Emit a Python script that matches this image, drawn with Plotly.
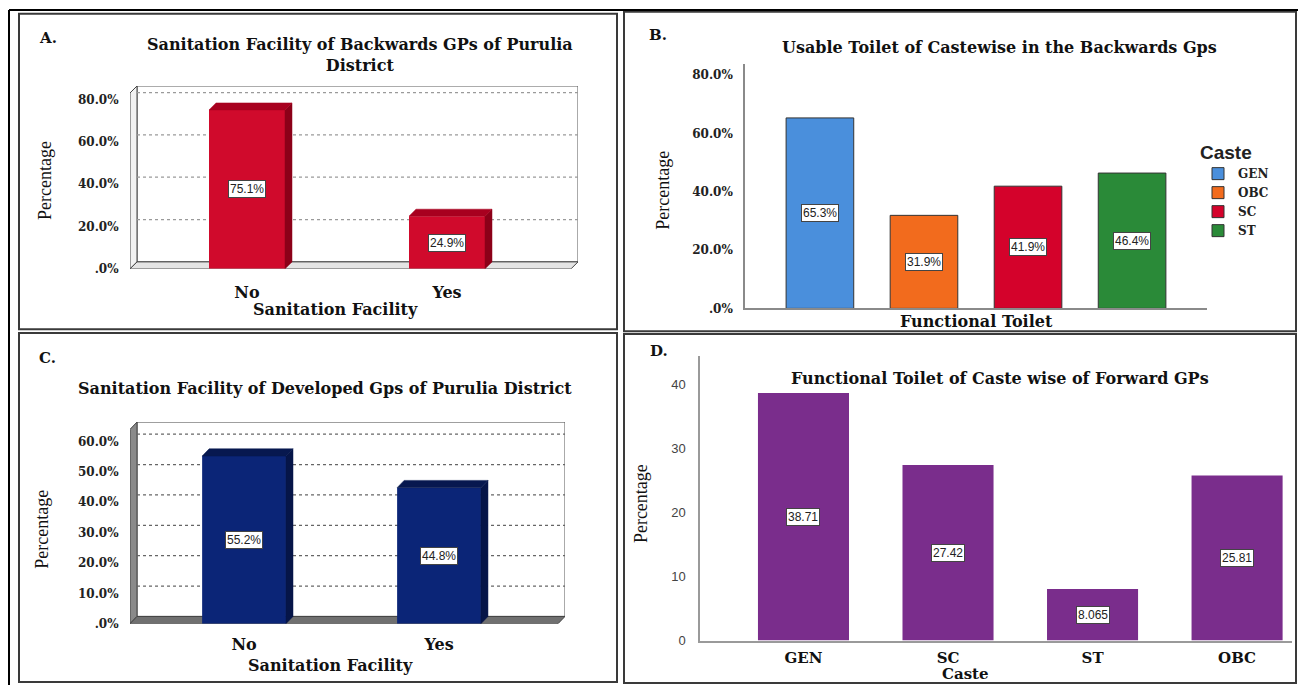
import plotly.graph_objects as go

W, H = 1298, 693
SERIF = "DejaVu Serif"
TIMES = "Liberation Serif"
SANS = "Liberation Sans"

# ---------------- data ----------------
# Panel A
a_categories = ["No", "Yes"]
a_values = [75.1, 24.9]
a_labels = ["75.1%", "24.9%"]
a_ticks = [0, 20, 40, 60, 80]
a_ticktext = [".0%", "20.0%", "40.0%", "60.0%", "80.0%"]

# Panel B
b_castes = ["GEN", "OBC", "SC", "ST"]
b_values = [65.3, 31.9, 41.9, 46.4]
b_labels = ["65.3%", "31.9%", "41.9%", "46.4%"]
b_colors = ["#4a8fdc", "#f26b1d", "#d4022b", "#2a8a38"]
b_ticks = [0, 20, 40, 60, 80]
b_ticktext = [".0%", "20.0%", "40.0%", "60.0%", "80.0%"]

# Panel C
c_categories = ["No", "Yes"]
c_values = [55.2, 44.8]
c_labels = ["55.2%", "44.8%"]
c_ticks = [0, 10, 20, 30, 40, 50, 60]
c_ticktext = [".0%", "10.0%", "20.0%", "30.0%", "40.0%", "50.0%", "60.0%"]

# Panel D
d_castes = ["GEN", "SC", "ST", "OBC"]
d_values = [38.71, 27.42, 8.065, 25.81]
d_labels = ["38.71", "27.42", "8.065", "25.81"]
d_ticks = [0, 10, 20, 30, 40]


def fx(x):
    return x / W


def fy(y):
    return 1 - y / H


fig = go.Figure()
shapes = []
annotations = []


def ann(text, x, y, size, family=SERIF, bold=True, color="#111", angle=0,
        xanchor="center"):
    annotations.append(dict(
        text=("<b>%s</b>" % text) if bold else text,
        x=fx(x), y=fy(y), xref="paper", yref="paper", showarrow=False,
        font=dict(family=family, size=size, color=color),
        textangle=angle, xanchor=xanchor, yanchor="middle"))


def value_labels(xref, yref, xs, vals, texts, size=12):
    for xv, v, t in zip(xs, vals, texts):
        annotations.append(dict(
            text=t, x=xv, y=v / 2, xref=xref, yref=yref, showarrow=False,
            font=dict(family=SANS, size=size, color="#222"),
            bgcolor="white", bordercolor="#444", borderwidth=1, borderpad=1))


def box3d(axn, xlo, xhi, ytop, dx, dy, ticks, floor_fill, wall_fill, grid_col):
    xr, yr = "x" + axn, "y" + axn
    # back wall
    shapes.append(dict(type="rect", xref=xr, yref=yr, x0=xlo + dx, x1=xhi,
                       y0=dy, y1=ytop, line=dict(color="#555", width=1),
                       fillcolor="white", layer="below"))
    # left wall
    shapes.append(dict(type="path", xref=xr, yref=yr, layer="below",
                       path="M %f,%f L %f,%f L %f,%f L %f,%f Z" % (
                           xlo, 0, xlo + dx, dy, xlo + dx, ytop, xlo, ytop - dy),
                       fillcolor=wall_fill, line=dict(color="#444", width=1)))
    # floor
    shapes.append(dict(type="path", xref=xr, yref=yr, layer="below",
                       path="M %f,%f L %f,%f L %f,%f L %f,%f Z" % (
                           xlo, 0, xhi - dx, 0, xhi, dy, xlo + dx, dy),
                       fillcolor=floor_fill, line=dict(color="#444", width=1)))
    for t in ticks[1:]:
        shapes.append(dict(type="line", xref=xr, yref=yr, layer="below",
                           x0=xlo + dx, x1=xhi, y0=t + dy, y1=t + dy,
                           line=dict(color=grid_col, width=1.2, dash="dot")))


def bars3d(axn, vals, half, dx, dy, front, side, top):
    xr, yr = "x" + axn, "y" + axn
    pos = list(range(len(vals)))
    fig.add_trace(go.Bar(x=pos, y=vals, width=2 * half, marker=dict(color=front, line=dict(width=0)),
                         xaxis=xr, yaxis=yr, showlegend=False, hoverinfo="skip"))
    for c, v in zip(pos, vals):
        fig.add_trace(go.Scatter(
            x=[c + half, c + half + dx, c + half + dx, c + half, c + half],
            y=[0, dy, v + dy, v, 0], fill="toself", fillcolor=side, mode="lines",
            line=dict(width=0.5, color=side), xaxis=xr, yaxis=yr,
            showlegend=False, hoverinfo="skip"))
        fig.add_trace(go.Scatter(
            x=[c - half, c - half + dx, c + half + dx, c + half, c - half],
            y=[v, v + dy, v + dy, v, v], fill="toself", fillcolor=top, mode="lines",
            line=dict(width=0.5, color=top), xaxis=xr, yaxis=yr,
            showlegend=False, hoverinfo="skip"))


# ---------------- Panel A ----------------
A_XLO, A_XHI, A_YTOP, A_DX, A_DY = -0.585, 1.655, 86.4, 0.035, 3.3
box3d("", A_XLO, A_XHI, A_YTOP, A_DX, A_DY, a_ticks, "#e4e4e4", "#f2f2f2", "#9a9a9a")
bars3d("", a_values, 0.19, A_DX, A_DY, "#d00a2c", "#8c0018", "#a8001f")
value_labels("x", "y", [0, 1], a_values, a_labels)

# ---------------- Panel B ----------------
for i, (cname, v, col) in enumerate(zip(b_castes, b_values, b_colors)):
    fig.add_trace(go.Bar(x=[i], y=[v], width=0.65, name=cname,
                         marker=dict(color=col, line=dict(color="#333", width=1)),
                         xaxis="x2", yaxis="y2", hoverinfo="skip"))
value_labels("x2", "y2", list(range(len(b_values))), b_values, b_labels)

# ---------------- Panel C ----------------
C_XLO, C_XHI, C_YTOP, C_DX, C_DY = -0.585, 1.646, 66.4, 0.036, 2.4
box3d("3", C_XLO, C_XHI, C_YTOP, C_DX, C_DY, c_ticks, "#707070", "#8a8a8a", "#666666")
bars3d("3", c_values, 0.215, C_DX, C_DY, "#0b2577", "#061548", "#07184f")
value_labels("x3", "y3", [0, 1], c_values, c_labels)

# ---------------- Panel D ----------------
fig.add_trace(go.Bar(x=list(range(len(d_values))), y=d_values, width=0.63,
                     marker=dict(color="#7a2d8c", line=dict(width=0)),
                     xaxis="x4", yaxis="y4", showlegend=False, hoverinfo="skip"))
value_labels("x4", "y4", list(range(len(d_values))), d_values, d_labels, size=12)

# ---------------- axes ----------------
tick_serif = dict(family=SERIF, size=12, color="#222", weight="bold")
cat_font = dict(family=SERIF, size=16, color="#111", weight="bold")
cat_font_d = dict(family=SERIF, size=15, color="#111", weight="bold")
hide = dict(showgrid=False, zeroline=False)

layout = dict(
    width=W, height=H, margin=dict(l=0, r=0, t=0, b=0),
    paper_bgcolor="white", plot_bgcolor="white", barmode="overlay",
    xaxis=dict(domain=[fx(130), fx(578)], range=[A_XLO, A_XHI], tickvals=[0, 1],
               ticktext=a_categories, tickfont=cat_font, ticks="outside",
               ticklen=9, tickcolor="rgba(0,0,0,0)", showline=False, **hide),
    yaxis=dict(domain=[fy(272), fy(87)], range=[0, A_YTOP], tickvals=a_ticks,
               ticktext=a_ticktext, tickfont=tick_serif, ticks="outside",
               ticklen=8, tickcolor="rgba(0,0,0,0)", showline=False, **hide),
    xaxis2=dict(domain=[fx(745), fx(1207)], range=[-0.72, 3.72], showticklabels=False,
                showline=True, linecolor="#8a8a8a", linewidth=1.5, anchor="y2", **hide),
    yaxis2=dict(domain=[fy(312), fy(65)], range=[0, 83.7], tickvals=b_ticks,
                ticktext=b_ticktext, tickfont=tick_serif, ticks="outside", ticklen=8,
                tickcolor="rgba(0,0,0,0)", showline=True, linecolor="#8a8a8a",
                linewidth=1.5, anchor="x2", **hide),
    xaxis3=dict(domain=[fx(130), fx(565)], range=[C_XLO, C_XHI], tickvals=[0, 1],
                ticktext=c_categories, tickfont=cat_font, ticks="outside", ticklen=6,
                tickcolor="rgba(0,0,0,0)", anchor="y3", **hide),
    yaxis3=dict(domain=[fy(631), fy(427)], range=[0, C_YTOP], tickvals=c_ticks,
                ticktext=c_ticktext, tickfont=tick_serif, ticks="outside", ticklen=8,
                tickcolor="rgba(0,0,0,0)", anchor="x3", **hide),
    xaxis4=dict(domain=[fx(700), fx(1292)], range=[-0.716, 3.38],
                tickvals=list(range(len(d_castes))), ticktext=d_castes,
                tickfont=cat_font_d, ticks="outside", ticklen=3,
                tickcolor="rgba(0,0,0,0)", showline=True, linecolor="#9a9a9a",
                linewidth=1.5, anchor="y4", **hide),
    yaxis4=dict(domain=[fy(648), fy(360)], range=[0, 44.5], tickvals=d_ticks,
                tickfont=dict(family=SANS, size=13, color="#444"), ticks="outside",
                ticklen=10, tickcolor="rgba(0,0,0,0)", showline=True,
                linecolor="#9a9a9a", linewidth=1.5, anchor="x4", **hide),
    legend=dict(x=fx(1198), y=fy(136), xanchor="left", yanchor="top",
                title=dict(text="<b>Caste</b>", font=dict(family=SANS, size=19, color="#222")),
                font=dict(family=SERIF, size=12, color="#222", weight="bold"),
                bgcolor="rgba(0,0,0,0)", itemwidth=30, tracegroupgap=0),
)

# ---------------- panel frames ----------------
for x0, y0, x1, y1 in [(19, 14, 617, 333), (624, 12, 1296, 335),
                       (19, 337, 617, 690), (624, 338, 1296, 691)]:
    shapes.append(dict(type="rect", xref="paper", yref="paper", x0=fx(x0), x1=fx(x1),
                       y0=fy(y1), y1=fy(y0), line=dict(color="#3a3a3a", width=2),
                       fillcolor="rgba(0,0,0,0)", layer="above"))
shapes.append(dict(type="line", xref="paper", yref="paper", x0=fx(9), x1=1,
                   y0=fy(10), y1=fy(10), line=dict(color="black", width=2)))
shapes.append(dict(type="line", xref="paper", yref="paper", x0=fx(9), x1=fx(9),
                   y0=0, y1=fy(10), line=dict(color="black", width=2)))

# ---------------- texts ----------------
ann("A.", 48, 38, 15)
ann("Sanitation Facility of Backwards GPs of Purulia<br>District", 360, 56, 16)
ann("Percentage", 45, 182, 18, family=TIMES, bold=False, angle=-90)
ann("Sanitation Facility", 335, 313, 16)

ann("B.", 658, 35, 15)
ann("Usable Toilet of Castewise in the Backwards Gps", 999, 48, 16)
ann("Percentage", 663, 193, 18, family=TIMES, bold=False, angle=-90)
ann("Functional Toilet", 976, 325, 16)

ann("C.", 47, 362, 15)
ann("Sanitation Facility of Developed Gps of Purulia District", 325, 393, 16)
ann("Percentage", 42, 536, 18, family=TIMES, bold=False, angle=-90)
ann("Sanitation Facility", 330, 673, 16)

ann("D.", 659, 355, 15)
ann("Functional Toilet of Caste wise of Forward GPs", 1000, 383, 16)
ann("Percentage", 641, 510, 18, family=TIMES, bold=False, angle=-90)
ann("Caste", 965, 682, 15)

layout["shapes"] = shapes
layout["annotations"] = annotations
fig.update_layout(**layout)
fig.write_html("out.html")
